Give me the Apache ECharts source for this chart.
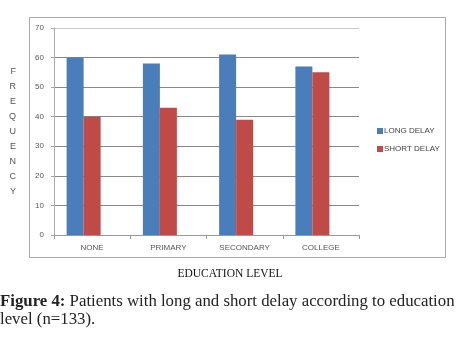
<!DOCTYPE html>
<html>
<head>
<meta charset="utf-8">
<script src="https://cdn.jsdelivr.net/npm/echarts@6/dist/echarts.min.js"></script>
<style>
  html, body { margin: 0; padding: 0; background: #fff; }
  #chart { width: 460px; height: 343px; }
</style>
</head>
<body>
<div id="chart"></div>
<script>
const categories = ["NONE", "PRIMARY", "SECONDARY", "COLLEGE"];
const longDelay = [60, 58, 61, 57];
const shortDelay = [40, 43, 39, 55];
// the source chart reserves a third (empty) bar slot per category
const emptySlot = [null, null, null, null];
const yLetters = ["F", "R", "E", "Q", "U", "E", "N", "C", "Y"];

const chart = echarts.init(document.getElementById("chart"), null, { renderer: "canvas" });

const tickFont = { color: "#555", fontSize: 8, fontFamily: "Liberation Sans, Arial, sans-serif" };

chart.setOption({
  animation: false,
  grid: { left: 54, right: 101, top: 28, bottom: 108 },
  legend: {
    orient: "vertical",
    left: 372,
    top: 122,
    itemWidth: 6,
    itemHeight: 6,
    itemGap: 10,
    icon: "rect",
    textStyle: { ...tickFont, color: "#444", padding: [0, 0, 0, -4] },
    data: ["LONG DELAY", "SHORT DELAY"]
  },
  xAxis: {
    type: "category",
    data: categories,
    axisLine: { lineStyle: { color: "#999" } },
    axisTick: { show: true, length: 4, lineStyle: { color: "#999" } },
    axisLabel: { ...tickFont, margin: 9 }
  },
  yAxis: {
    type: "value",
    min: 0,
    max: 70,
    interval: 10,
    name: yLetters.join("\n"),
    nameLocation: "middle",
    nameRotate: 0,
    nameGap: 38,
    nameTextStyle: { color: "#555", fontSize: 9, lineHeight: 15, fontFamily: "Liberation Sans, Arial, sans-serif" },
    axisLine: { show: true, lineStyle: { color: "#aaa" } },
    axisTick: { show: true, length: 3, lineStyle: { color: "#aaa" } },
    axisLabel: { ...tickFont, margin: 10 },
    splitLine: {
      lineStyle: {
        color: ["#888", "#888", "#888", "#888", "#888", "#888", "#888", "#c8c8c8"],
        width: 1
      }
    }
  },
  series: [
    {
      name: "LONG DELAY",
      type: "bar",
      data: longDelay,
      barWidth: 17,
      barGap: "0%",
      itemStyle: { color: "#4a7ebb" }
    },
    {
      name: "SHORT DELAY",
      type: "bar",
      data: shortDelay,
      barWidth: 17,
      barGap: "0%",
      itemStyle: { color: "#be4b48" }
    },
    {
      name: "",
      type: "bar",
      data: emptySlot,
      barWidth: 17,
      barGap: "0%"
    }
  ],
  graphic: [
    {
      type: "rect",
      shape: { x: 29.5, y: 17.5, width: 416, height: 240 },
      style: { fill: "none", stroke: "#aaa", lineWidth: 1 },
      z: -1
    },
    {
      type: "text",
      left: "center",
      top: 268,
      style: {
        text: "EDUCATION LEVEL",
        font: "11.5px 'Liberation Serif', 'Times New Roman', serif",
        fill: "#111"
      }
    },
    {
      type: "text",
      left: 0,
      top: 293,
      style: {
        text: "{b|Figure 4:} Patients with long and short delay according to education\nlevel (n=133).",
        font: "16.8px 'Liberation Serif', 'Times New Roman', serif",
        fill: "#222",
        lineHeight: 18,
        rich: {
          b: { font: "bold 16.8px 'Liberation Serif', 'Times New Roman', serif", fill: "#222" }
        }
      }
    }
  ]
});
</script>
</body>
</html>
